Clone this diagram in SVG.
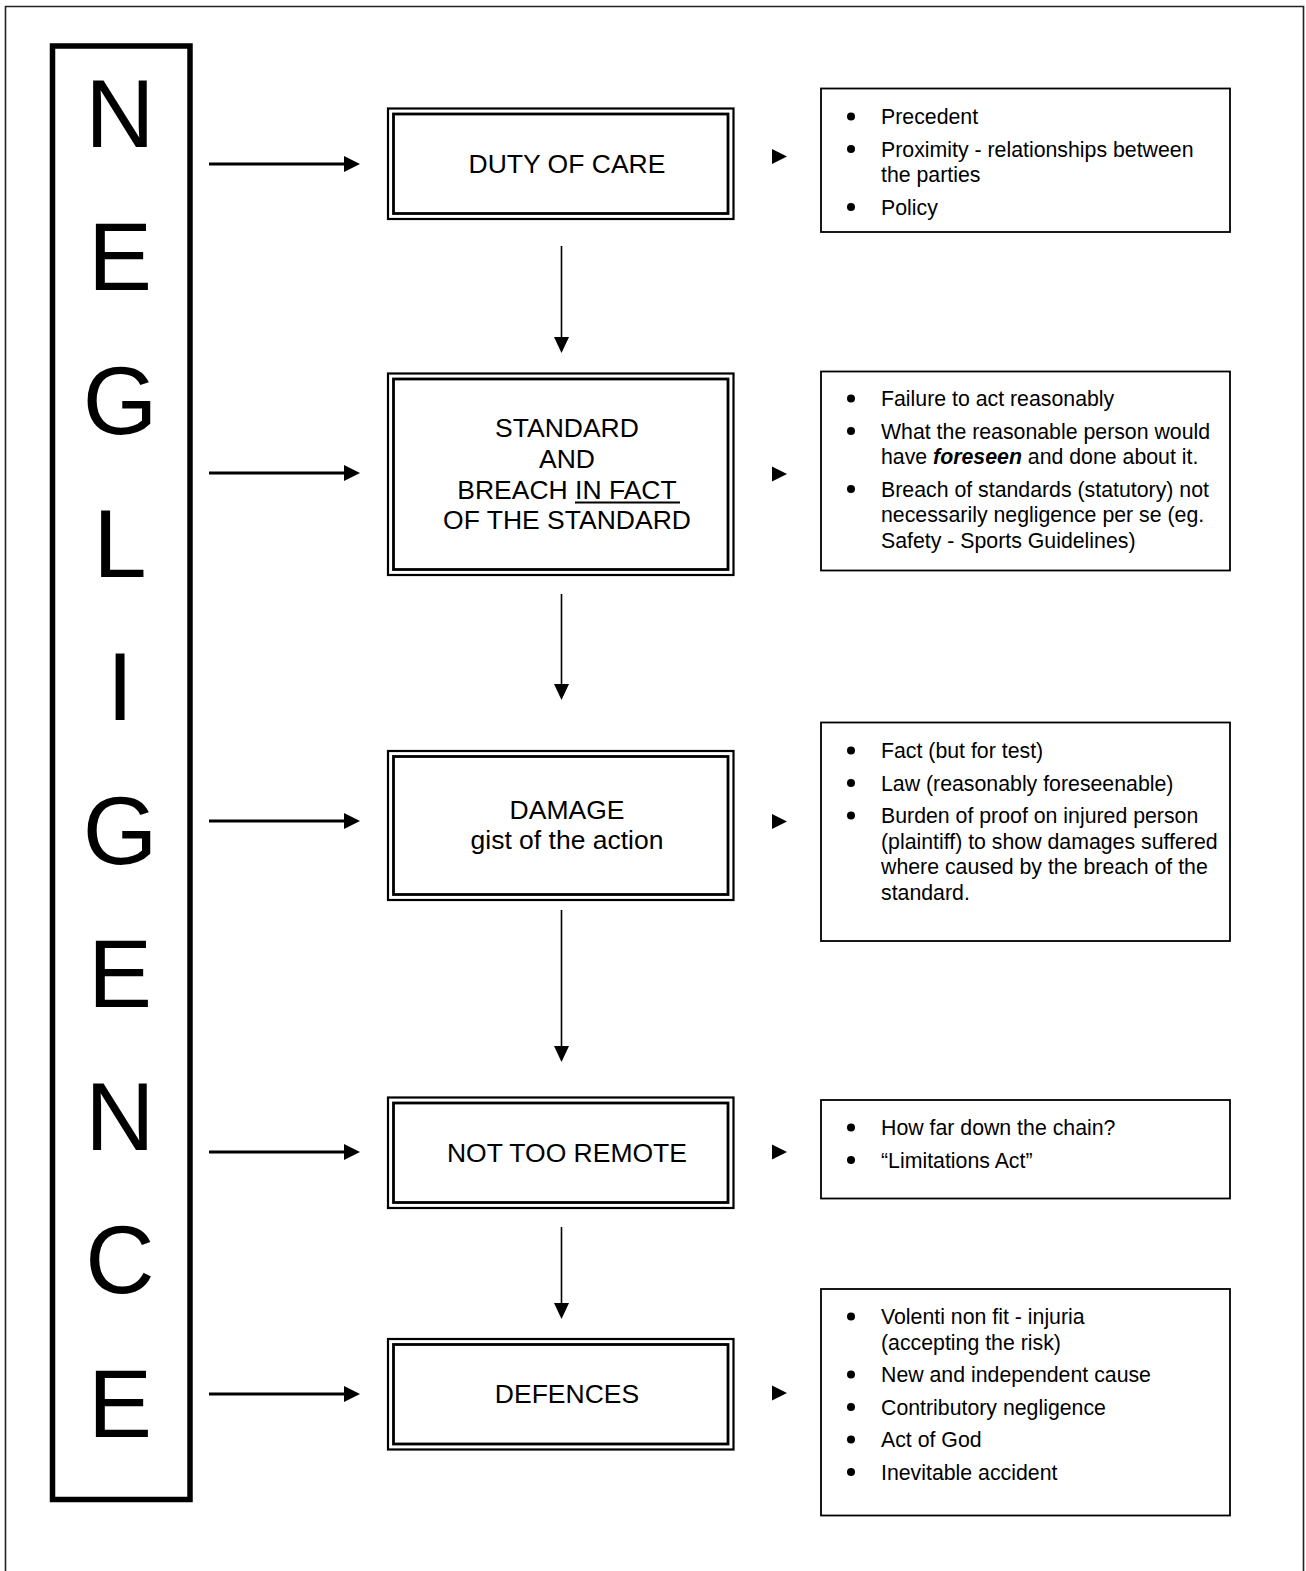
<svg xmlns="http://www.w3.org/2000/svg" width="1306" height="1571" viewBox="0 0 1306 1571">
<defs>
<style>
.big{font-family:"Liberation Sans",Arial,sans-serif;font-size:96px;fill:#000;text-anchor:middle}
.main{font-family:"Liberation Sans",Arial,sans-serif;font-size:26.5px;fill:#000;text-anchor:middle}
.item{font-family:"Liberation Sans",Arial,sans-serif;font-size:21.3px;fill:#000}
.outer{fill:none;stroke:#000;stroke-width:2.2}
.inner{fill:none;stroke:#000;stroke-width:2.8}
.side{fill:#fff;stroke:#000;stroke-width:1.8}
.hline{stroke:#000;stroke-width:3}
.vline{stroke:#000;stroke-width:1.6}
</style>
</defs>
<rect width="1306" height="1571" fill="#fff"/>
<path d="M5.5,1571 V6.5 H1303.5 V1571" fill="none" stroke="#222" stroke-width="1.6"/>

<g id="negligence">
<rect x="52.5" y="46" width="137.5" height="1453.5" fill="none" stroke="#000" stroke-width="5.5"/>
<text class="big" x="120" y="147">N</text>
<text class="big" x="120" y="290.3">E</text>
<text class="big" x="120" y="433.6">G</text>
<text class="big" x="120" y="576.9">L</text>
<text class="big" x="120" y="720.2">I</text>
<text class="big" x="120" y="863.5">G</text>
<text class="big" x="120" y="1006.8">E</text>
<text class="big" x="120" y="1150.1">N</text>
<text class="big" x="120" y="1293.4">C</text>
<text class="big" x="120" y="1436.7">E</text>
</g>

<g id="connectors">
<g>
<line class="hline" x1="209" y1="164" x2="346" y2="164"/><polygon points="344,156 360,164 344,172"/>
<line class="hline" x1="209" y1="473" x2="346" y2="473"/><polygon points="344,465 360,473 344,481"/>
<line class="hline" x1="209" y1="821" x2="346" y2="821"/><polygon points="344,813 360,821 344,829"/>
<line class="hline" x1="209" y1="1152" x2="346" y2="1152"/><polygon points="344,1144 360,1152 344,1160"/>
<line class="hline" x1="209" y1="1394" x2="346" y2="1394"/><polygon points="344,1386 360,1394 344,1402"/>
</g>
<g>
<line class="vline" x1="561.5" y1="246" x2="561.5" y2="340"/><polygon points="554,337 569,337 561.5,353"/>
<line class="vline" x1="561.5" y1="594" x2="561.5" y2="687"/><polygon points="554,684 569,684 561.5,700"/>
<line class="vline" x1="561.5" y1="910" x2="561.5" y2="1049"/><polygon points="554,1046 569,1046 561.5,1062"/>
<line class="vline" x1="561.5" y1="1227" x2="561.5" y2="1306"/><polygon points="554,1303 569,1303 561.5,1319"/>
</g>
<g>
<polygon points="772,149 787,156.5 772,164"/>
<polygon points="772,466.5 787,474 772,481.5"/>
<polygon points="772,814 787,821.5 772,829"/>
<polygon points="772,1144.5 787,1152 772,1159.5"/>
<polygon points="772,1385.5 787,1393 772,1400.5"/>
</g>
</g>

<g id="duty">
<rect class="outer" x="388" y="108.5" width="345.5" height="110.5"/>
<rect class="inner" x="393.5" y="114" width="334.5" height="99.5"/>
<text class="main" x="567" y="172.5">DUTY OF CARE</text>
</g>

<g id="standard">
<rect class="outer" x="388" y="373.5" width="345.5" height="201.5"/>
<rect class="inner" x="393.5" y="379" width="334.5" height="190.5"/>
<text class="main" x="567" y="436.5">STANDARD</text>
<text class="main" x="567" y="467.5">AND</text>
<text class="main" x="567" y="498.5">BREACH IN FACT</text>
<line x1="575" y1="502.5" x2="680" y2="502.5" stroke="#000" stroke-width="2"/>
<text class="main" x="567" y="528.5">OF THE STANDARD</text>
</g>

<g id="damage">
<rect class="outer" x="388" y="751" width="345.5" height="149"/>
<rect class="inner" x="393.5" y="756.5" width="334.5" height="138"/>
<text class="main" x="567" y="818.5">DAMAGE</text>
<text class="main" x="567" y="849">gist of the action</text>
</g>

<g id="remote">
<rect class="outer" x="388" y="1097.5" width="345.5" height="110.5"/>
<rect class="inner" x="393.5" y="1103" width="334.5" height="99.5"/>
<text class="main" x="567" y="1161.5">NOT TOO REMOTE</text>
</g>

<g id="defences">
<rect class="outer" x="388" y="1339" width="345.5" height="110.5"/>
<rect class="inner" x="393.5" y="1344.5" width="334.5" height="99.5"/>
<text class="main" x="567" y="1402.5">DEFENCES</text>
</g>

<g id="notes-duty">
<rect class="side" x="821" y="88.5" width="409" height="143.5"/>
<circle cx="851" cy="116.5" r="4"/><text class="item" x="881" y="124">Precedent</text>
<circle cx="851" cy="149" r="4"/><text class="item" x="881" y="156.5">Proximity - relationships between</text>
<text class="item" x="881" y="182">the parties</text>
<circle cx="851" cy="207" r="4"/><text class="item" x="881" y="214.5">Policy</text>
</g>

<g id="notes-standard">
<rect class="side" x="821" y="371.5" width="409" height="199"/>
<circle cx="851" cy="398.5" r="4"/><text class="item" x="881" y="406">Failure to act reasonably</text>
<circle cx="851" cy="431" r="4"/><text class="item" x="881" y="438.5">What the reasonable person would</text>
<text class="item" x="881" y="464">have <tspan font-weight="bold" font-style="italic">foreseen</tspan> and done about it.</text>
<circle cx="851" cy="489" r="4"/><text class="item" x="881" y="496.5">Breach of standards (statutory) not</text>
<text class="item" x="881" y="522">necessarily negligence per se (eg.</text>
<text class="item" x="881" y="547.5">Safety - Sports Guidelines)</text>
</g>

<g id="notes-damage">
<rect class="side" x="821" y="722.5" width="409" height="218.5"/>
<circle cx="851" cy="750.5" r="4"/><text class="item" x="881" y="758">Fact (but for test)</text>
<circle cx="851" cy="783" r="4"/><text class="item" x="881" y="790.5">Law (reasonably foreseenable)</text>
<circle cx="851" cy="815.5" r="4"/><text class="item" x="881" y="823">Burden of proof on injured person</text>
<text class="item" x="881" y="848.5">(plaintiff) to show damages suffered</text>
<text class="item" x="881" y="874">where caused by the breach of the</text>
<text class="item" x="881" y="899.5">standard.</text>
</g>

<g id="notes-remote">
<rect class="side" x="821" y="1100" width="409" height="98.5"/>
<circle cx="851" cy="1127.5" r="4"/><text class="item" x="881" y="1135">How far down the chain?</text>
<circle cx="851" cy="1160" r="4"/><text class="item" x="881" y="1167.5">“Limitations Act”</text>
</g>

<g id="notes-defences">
<rect class="side" x="821" y="1289" width="409" height="226.5"/>
<circle cx="851" cy="1316.5" r="4"/><text class="item" x="881" y="1324">Volenti non fit - injuria</text>
<text class="item" x="881" y="1349.5">(accepting the risk)</text>
<circle cx="851" cy="1374.5" r="4"/><text class="item" x="881" y="1382">New and independent cause</text>
<circle cx="851" cy="1407" r="4"/><text class="item" x="881" y="1414.5">Contributory negligence</text>
<circle cx="851" cy="1439.5" r="4"/><text class="item" x="881" y="1447">Act of God</text>
<circle cx="851" cy="1472" r="4"/><text class="item" x="881" y="1479.5">Inevitable accident</text>
</g>
</svg>
